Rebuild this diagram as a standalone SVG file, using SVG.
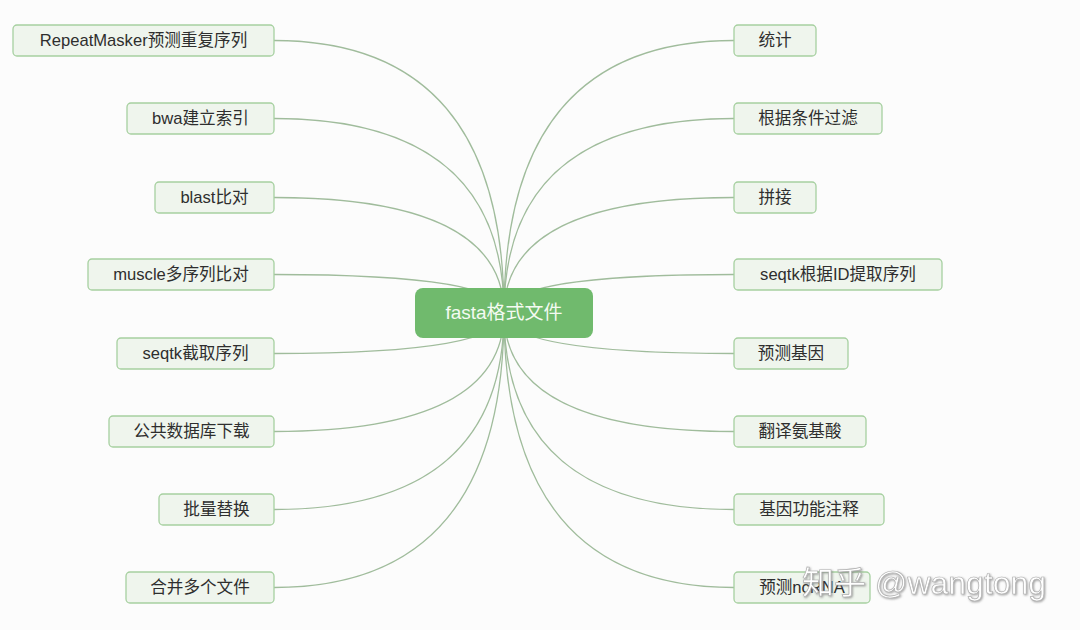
<svg xmlns="http://www.w3.org/2000/svg" width="1080" height="630" viewBox="0 0 1080 630">
<defs>
<style>
.n rect{fill:#eff5ed;stroke:#a6d0a0;stroke-width:1.3}
.n text{font-family:"Liberation Sans","Noto Sans CJK SC",sans-serif;font-size:16.6px;fill:#2e2e2e;text-anchor:middle}
.c path{fill:none;stroke:#a0bc9c;stroke-width:1.3}
.wm{font-family:"Liberation Sans","Noto Sans CJK SC",sans-serif;font-size:32px;fill:#ffffff;stroke:#b0b0b0;stroke-width:0.7}
</style>
<filter id="sh" x="-10%" y="-30%" width="120%" height="160%">
<feDropShadow dx="1" dy="1" stdDeviation="0.8" flood-color="#777" flood-opacity="0.7"/>
</filter>
</defs>
<rect width="1080" height="630" fill="#fcfcfc"/>
<g id="connectors" class="c">
<path d="M274 40.5 Q504 40.5 504 313"/>
<path d="M274 118.5 Q504 118.5 504 313"/>
<path d="M274 197.5 Q504 197.5 504 313"/>
<path d="M274 274.5 Q504 274.5 504 313"/>
<path d="M274 353.5 Q504 353.5 504 313"/>
<path d="M274 431.5 Q504 431.5 504 313"/>
<path d="M274 509.5 Q504 509.5 504 313"/>
<path d="M274 587.5 Q504 587.5 504 313"/>
<path d="M734 40.5 Q504 40.5 504 313"/>
<path d="M734 118.5 Q504 118.5 504 313"/>
<path d="M734 197.5 Q504 197.5 504 313"/>
<path d="M734 274.5 Q504 274.5 504 313"/>
<path d="M734 353.5 Q504 353.5 504 313"/>
<path d="M734 431.5 Q504 431.5 504 313"/>
<path d="M734 509.5 Q504 509.5 504 313"/>
<path d="M734 587.5 Q504 587.5 504 313"/>
</g>
<g id="center">
<rect x="415" y="288" width="178" height="50" rx="8" fill="#70ba6d"/>
<text x="504" y="319" font-family="Liberation Sans,'Noto Sans CJK SC',sans-serif" font-size="19" fill="#f4faf2" text-anchor="middle">fasta格式文件</text>
</g>
<g id="l1" class="n"><rect x="13" y="25" width="261" height="31" rx="4"/><text x="143.5" y="45.5">RepeatMasker预测重复序列</text></g>
<g id="l2" class="n"><rect x="127" y="103" width="147" height="31" rx="4"/><text x="200.5" y="123.5">bwa建立索引</text></g>
<g id="l3" class="n"><rect x="155" y="182" width="119" height="31" rx="4"/><text x="214.5" y="202.5">blast比对</text></g>
<g id="l4" class="n"><rect x="88" y="259" width="186" height="31" rx="4"/><text x="181" y="279.5">muscle多序列比对</text></g>
<g id="l5" class="n"><rect x="117" y="338" width="157" height="31" rx="4"/><text x="195.5" y="358.5">seqtk截取序列</text></g>
<g id="l6" class="n"><rect x="109" y="416" width="165" height="31" rx="4"/><text x="191.5" y="436.5">公共数据库下载</text></g>
<g id="l7" class="n"><rect x="159" y="494" width="115" height="31" rx="4"/><text x="216.5" y="514.5">批量替换</text></g>
<g id="l8" class="n"><rect x="126" y="572" width="148" height="31" rx="4"/><text x="200" y="592.5">合并多个文件</text></g>
<g id="r1" class="n"><rect x="734" y="25" width="82" height="31" rx="4"/><text x="775" y="45.5">统计</text></g>
<g id="r2" class="n"><rect x="734" y="103" width="148" height="31" rx="4"/><text x="808" y="123.5">根据条件过滤</text></g>
<g id="r3" class="n"><rect x="734" y="182" width="82" height="31" rx="4"/><text x="775" y="202.5">拼接</text></g>
<g id="r4" class="n"><rect x="734" y="259" width="208" height="31" rx="4"/><text x="838" y="279.5">seqtk根据ID提取序列</text></g>
<g id="r5" class="n"><rect x="734" y="338" width="114" height="31" rx="4"/><text x="791" y="358.5">预测基因</text></g>
<g id="r6" class="n"><rect x="734" y="416" width="132" height="31" rx="4"/><text x="800" y="436.5">翻译氨基酸</text></g>
<g id="r7" class="n"><rect x="734" y="494" width="150" height="31" rx="4"/><text x="809" y="514.5">基因功能注释</text></g>
<g id="r8" class="n"><rect x="734" y="572" width="136" height="31" rx="4"/><text x="802" y="592.5">预测ncRNA</text></g>
<text class="wm" x="802" y="594" filter="url(#sh)">知乎 @wangtong</text>
</svg>
